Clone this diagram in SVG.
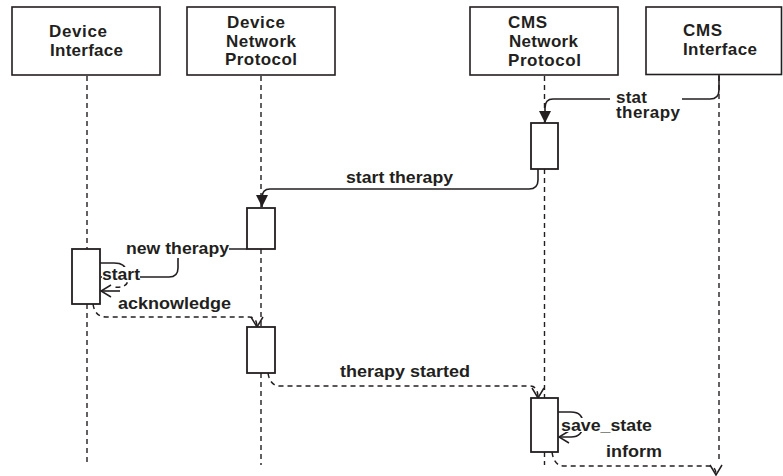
<svg xmlns="http://www.w3.org/2000/svg" width="783" height="476" viewBox="0 0 783 476">
<style>
.box{fill:#fff;stroke:#231f20;stroke-width:1.6}
.act{fill:#fff;stroke:#231f20;stroke-width:1.8}
.life{fill:none;stroke:#231f20;stroke-width:1.4;stroke-dasharray:5,4}
.msg{fill:none;stroke:#231f20;stroke-width:1.6}
.ret{fill:none;stroke:#231f20;stroke-width:1.5;stroke-dasharray:5,4}
text{font-family:"Liberation Sans",Arial,sans-serif;font-weight:bold;font-size:17px;fill:#231f20}
.bg{fill:#fff}
</style>
<defs>
<marker id="filled" markerUnits="userSpaceOnUse" markerWidth="12" markerHeight="12" viewBox="0 0 10 10" refX="10" refY="5" orient="auto">
<path d="M0,0 L10,5 L0,10 z" fill="#231f20" stroke="none"/>
</marker>
<marker id="open" markerUnits="userSpaceOnUse" markerWidth="12" markerHeight="14" viewBox="-1 -1 12 14" refX="10" refY="6" orient="auto">
<path d="M0,0 L10,6 L0,12" fill="none" stroke="#231f20" stroke-width="1.5" stroke-dasharray="none"/>
</marker>
</defs>

<g id="lifelines">
<path class="life" d="M87,76 V249 M87,304 V465"/>
<path class="life" d="M261,76 V208 M261,249 V327 M261,373 V465"/>
<path class="life" d="M544.5,76 V123 M544.5,169 V398 M544.5,452 V465"/>
<path class="life" d="M719,76 V462"/>
</g>

<g id="node-device-interface">
<rect class="box" x="12" y="7" width="148" height="68"/>
<text lengthAdjust="spacingAndGlyphs"><tspan x="49" y="37" textLength="58">Device</tspan><tspan x="50" y="56" textLength="73">Interface</tspan></text>
</g>
<g id="node-device-network-protocol">
<rect class="box" x="187" y="7" width="148" height="68"/>
<text lengthAdjust="spacingAndGlyphs"><tspan x="227" y="28" textLength="58">Device</tspan><tspan x="226" y="47" textLength="70">Network</tspan><tspan x="225" y="65" textLength="72">Protocol</tspan></text>
</g>
<g id="node-cms-network-protocol">
<rect class="box" x="470" y="7" width="148" height="68"/>
<text lengthAdjust="spacingAndGlyphs"><tspan x="508" y="27.5" textLength="39">CMS</tspan><tspan x="509" y="47" textLength="69">Network</tspan><tspan x="508" y="65.5" textLength="73">Protocol</tspan></text>
</g>
<g id="node-cms-interface">
<rect class="box" x="646" y="7" width="135.5" height="67.5"/>
<text lengthAdjust="spacingAndGlyphs"><tspan x="683" y="36" textLength="39">CMS</tspan><tspan x="683" y="55" textLength="74">Interface</tspan></text>
</g>

<g id="connectors">
<path class="msg" d="M719,75 V90 Q719,99 710,99 H553 Q545,99 545,108 V123" marker-end="url(#filled)"/>
<path class="msg" d="M538,169 V180 Q538,189 529,189 H270 Q262,189 262,198 V207" marker-end="url(#filled)"/>
<path class="msg" d="M247,249 H188 Q178,249 178,259 V268 Q178,277 169,277 H101"/>
<path class="msg" d="M100,263 H114 Q126,263 126,272"/>
<path class="ret" d="M110,268 Q128,268 128,279 Q128,289 112,287"/>
<path class="msg" d="M120,291 H101" marker-end="url(#open)"/>
<path class="ret" d="M93,304 Q95,317 106,317 H249 Q257,317 257,327" marker-end="url(#open)"/>
<path class="ret" d="M268,373 Q270,386 280,386 H530 Q538,386 538,398" marker-end="url(#open)"/>
<path class="msg" d="M558,412 H571 Q583,412 583,424 Q583,437 571,437 H559" marker-end="url(#open)"/>
<path class="ret" d="M552,452 Q554,466 564,466 H709 Q716,466 716,475" marker-end="url(#open)"/>
</g>

<g id="activations">
<rect class="act" x="531" y="123" width="27" height="46"/>
<rect class="act" x="247" y="208" width="28" height="41"/>
<rect class="act" x="72" y="249" width="28" height="55"/>
<rect class="act" x="247" y="327" width="28" height="46"/>
<rect class="act" x="531" y="398" width="27" height="54"/>
</g>

<g id="labels">
<rect class="bg" x="610" y="89" width="72" height="34"/>
<text lengthAdjust="spacingAndGlyphs"><tspan x="616" y="102.5" textLength="31">stat</tspan><tspan x="616" y="117.5" textLength="64">therapy</tspan></text>
<text x="346" y="183" textLength="107" lengthAdjust="spacingAndGlyphs">start therapy</text>
<rect class="bg" x="125" y="240" width="104" height="18"/>
<text x="126" y="254" textLength="103" lengthAdjust="spacingAndGlyphs">new therapy</text>
<rect class="bg" x="102" y="267" width="38" height="15"/>
<text x="102" y="280" textLength="38" lengthAdjust="spacingAndGlyphs">start</text>
<text x="118" y="309" textLength="113" lengthAdjust="spacingAndGlyphs">acknowledge</text>
<text x="340" y="377" textLength="130" lengthAdjust="spacingAndGlyphs">therapy started</text>
<rect class="bg" x="561" y="418" width="92" height="14"/>
<text x="561" y="431" textLength="91" lengthAdjust="spacingAndGlyphs">save_state</text>
<text x="606" y="457" textLength="56" lengthAdjust="spacingAndGlyphs">inform</text>
</g>
</svg>
